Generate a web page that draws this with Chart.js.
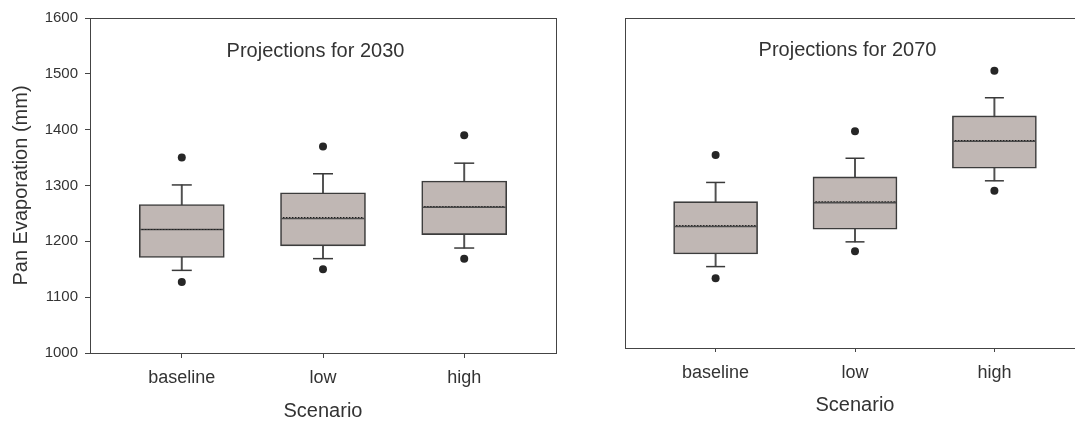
<!DOCTYPE html>
<html>
<head>
<meta charset="utf-8">
<script src="https://cdn.jsdelivr.net/npm/chart.js@4/dist/chart.umd.min.js"></script>
<style>
  html, body { margin: 0; padding: 0; background: #fff; overflow: hidden; width: 1075px; height: 421px; }
  canvas { position: absolute; top: 0; }
  #c2030 { left: 0; }
  #c2070 { left: 580px; }
</style>
</head>
<body>
<canvas id="c2030" width="580" height="421"></canvas>
<canvas id="c2070" width="525" height="421"></canvas>
<script>
// Scenario categories and y-axis ticks
const scenarios = ['baseline', 'low', 'high'];
const yTickMin = 1000;
const yTickMax = 1600;
const yTickStep = 100;

// Pan evaporation (mm), projections for 2030
const p2030LowOutlier   = [1127, 1150, 1169];
const p2030WhiskerLow   = [1148, 1169, 1188];
const p2030Q1           = [1171, 1192, 1212];
const p2030Median       = [1221, 1241, 1261];
const p2030Mean         = [1222, 1243, 1262];
const p2030Q3           = [1266, 1287, 1308];
const p2030WhiskerHigh  = [1301, 1321, 1340];
const p2030HighOutlier  = [1350, 1370, 1390];

// Pan evaporation (mm), projections for 2070
const p2070LowOutlier   = [1127, 1176, 1286];
const p2070WhiskerLow   = [1148, 1193, 1304];
const p2070Q1           = [1171, 1216, 1327];
const p2070Median       = [1221, 1264, 1376];
const p2070Mean         = [1222, 1266, 1378];
const p2070Q3           = [1266, 1311, 1422];
const p2070WhiskerHigh  = [1301, 1345, 1455];
const p2070HighOutlier  = [1351, 1394, 1504];

const FONT = '"Liberation Sans", Arial, Helvetica, sans-serif';
const TEXT = '#333333';
const LINE = '#444444';
Chart.defaults.font.family = FONT;
Chart.defaults.color = TEXT;

// positions of the categories on the linear x scale
const positions = scenarios.map((_, i) => i + 1);
const pts = (vals) => vals.map((v, i) => ({ x: positions[i], y: v }));

// small dotted stroke used as the mean marker
function dottedMarker(width) {
  const c = document.createElement('canvas');
  c.width = width; c.height = 1;
  const g = c.getContext('2d');
  g.fillStyle = '#1e1e1e';
  for (let x = 1; x < width - 1; x += 3) g.fillRect(x, 0, 1.4, 1);
  return c;
}

// panel frame and in-plot heading
const panelPlugin = {
  id: 'panelFrame',
  afterDraw(chart, args, opts) {
    const { ctx, chartArea: { left, top, right, bottom } } = chart;
    ctx.save();
    ctx.strokeStyle = LINE;
    ctx.lineWidth = 1;
    ctx.strokeRect(left + 0.5, top + 0.5, right - left, bottom - top);
    ctx.fillStyle = TEXT;
    ctx.font = '20px ' + FONT;
    ctx.textAlign = 'center';
    ctx.textBaseline = 'alphabetic';
    ctx.fillText(opts.text, (left + right) / 2 - 7.5, top + opts.baseline);
    ctx.restore();
  }
};

function boxChart(id, s, geo) {
  const boxW = geo.boxWidth;
  return new Chart(document.getElementById(id), {
    type: 'bar',
    plugins: [panelPlugin],
    data: {
      datasets: [
        {
          type: 'scatter', label: 'outliers',
          data: pts(s.lowOut).concat(pts(s.highOut)),
          pointRadius: 4, pointBackgroundColor: '#262626', pointBorderWidth: 0
        },
        {
          type: 'scatter', label: 'mean',
          data: pts(s.mean),
          pointStyle: dottedMarker(boxW - 3), pointRadius: 1
        },
        {
          type: 'scatter', label: 'median',
          data: pts(s.median),
          pointStyle: 'line', pointRadius: boxW / 2 - 1,
          pointBorderColor: '#4a4a4a', pointBorderWidth: 1.5
        },
        {
          type: 'scatter', label: 'caps',
          data: pts(s.wLow).concat(pts(s.wHigh)),
          pointStyle: 'line', pointRadius: geo.capHalf,
          pointBorderColor: '#3a3a3a', pointBorderWidth: 1.5
        },
        {
          type: 'bar', label: 'box',
          data: positions.map((x, i) => ({ x, y: [s.q1[i], s.q3[i]] })),
          backgroundColor: '#c0b7b4', borderColor: '#3c3c3c', borderWidth: 1.6,
          borderSkipped: false, barThickness: boxW, grouped: false
        },
        {
          type: 'bar', label: 'whisker',
          data: positions.map((x, i) => ({ x, y: [s.wLow[i], s.wHigh[i]] })),
          backgroundColor: '#505050', borderWidth: 0,
          barThickness: 1.3, grouped: false
        }
      ]
    },
    options: {
      responsive: false,
      animation: false,
      events: [],
      layout: { padding: geo.padding, autoPadding: false },
      plugins: {
        legend: { display: false },
        tooltip: { enabled: false },
        panelFrame: { text: s.title, baseline: geo.titleBaseline }
      },
      scales: {
        x: {
          type: 'linear', min: 0.35, max: 3.65, offset: false,
          afterBuildTicks: (sc) => { sc.ticks = positions.map(v => ({ value: v })); },
          afterFit: (sc) => { sc.height = geo.xHeight; },
          ticks: {
            callback: (v) => scenarios[Math.round(v) - 1],
            font: { size: 18 }, color: TEXT, padding: geo.xTickPad,
            maxRotation: 0, autoSkip: false
          },
          grid: { offset: false, drawOnChartArea: false, drawTicks: true, tickLength: geo.xTickLen, color: LINE, lineWidth: 1 },
          border: { display: true, color: LINE, width: 1 },
          title: {
            display: true, text: 'Scenario', color: TEXT,
            font: { size: 20, lineHeight: 1 }, padding: { top: 0, bottom: geo.xTitlePad }
          }
        },
        y: geo.showY ? {
          min: yTickMin, max: yTickMax,
          afterFit: (sc) => { sc.width = 90; },
          ticks: { stepSize: yTickStep, callback: (v) => String(v), font: { size: 15 }, color: TEXT, padding: 7 },
          grid: { drawOnChartArea: false, drawTicks: true, tickLength: 5, color: LINE, lineWidth: 1 },
          border: { display: true, color: LINE, width: 1 },
          title: {
            display: true, text: 'Pan Evaporation (mm)', color: TEXT,
            font: { size: 20, lineHeight: 1 }, padding: { top: 11.5, bottom: 0 }
          }
        } : { display: false, min: yTickMin, max: yTickMax }
      }
    }
  });
}

boxChart('c2030', {
  title: 'Projections for 2030',
  lowOut: p2030LowOutlier, wLow: p2030WhiskerLow, q1: p2030Q1, median: p2030Median,
  mean: p2030Mean, q3: p2030Q3, wHigh: p2030WhiskerHigh, highOut: p2030HighOutlier
}, {
  showY: true, boxWidth: 85, capHalf: 10,
  padding: { top: 18, right: 24, bottom: 0, left: 0 },
  xHeight: 68, xTickLen: 5, xTickPad: 9, xTitlePad: 0, titleBaseline: 38.8
});

boxChart('c2070', {
  title: 'Projections for 2070',
  lowOut: p2070LowOutlier, wLow: p2070WhiskerLow, q1: p2070Q1, median: p2070Median,
  mean: p2070Mean, q3: p2070Q3, wHigh: p2070WhiskerHigh, highOut: p2070HighOutlier
}, {
  showY: false, boxWidth: 84, capHalf: 9.5,
  padding: { top: 18, right: 20, bottom: 0, left: 45 },
  xHeight: 73, xTickLen: 4, xTickPad: 10, xTitlePad: 6, titleBaseline: 38
});
</script>
</body>
</html>
